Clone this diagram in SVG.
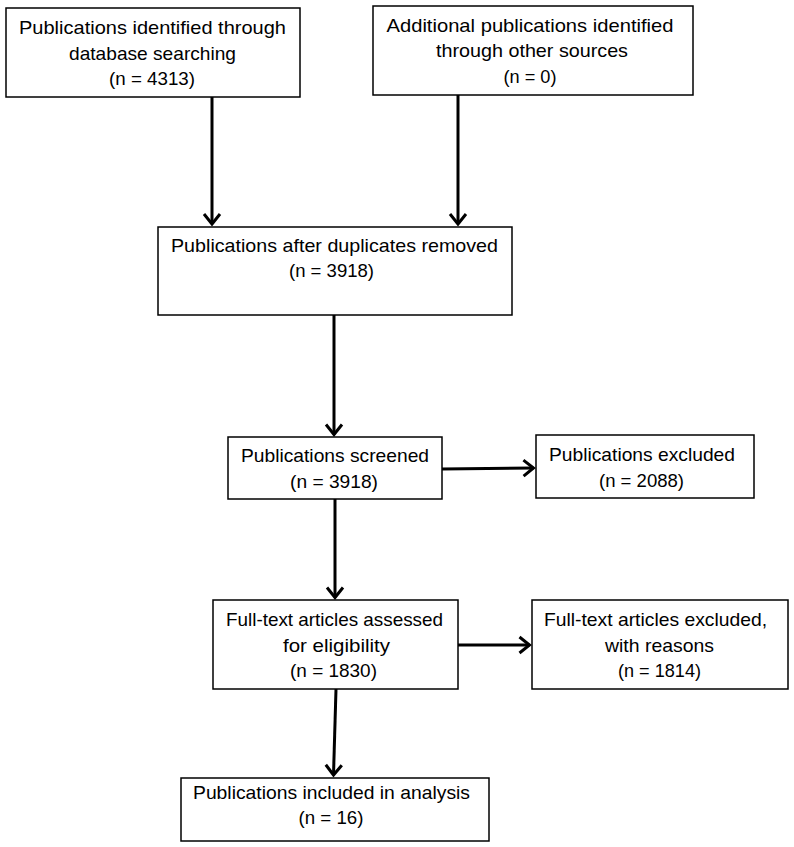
<svg xmlns="http://www.w3.org/2000/svg" width="794" height="847" viewBox="0 0 794 847">
<style>
.box{fill:#fff;stroke:#000;stroke-width:1.5}
.t{font-family:"Liberation Sans",Arial,sans-serif;font-size:19px;fill:#000;text-anchor:middle}
.c{stroke:#000;stroke-width:3;fill:none}
</style>
<defs>
<marker id="ah" markerUnits="userSpaceOnUse" markerWidth="24" markerHeight="24" viewBox="-12 -12 24 24" refX="0" refY="0" orient="auto">
<path d="M-10,-8 L0,0 L-10,8" fill="none" stroke="#000" stroke-width="3"/>
</marker>
</defs>
<rect width="794" height="847" fill="#fff"/>
<g id="connectors">
<line class="c" x1="212" y1="97" x2="212" y2="224" marker-end="url(#ah)"/>
<line class="c" x1="458" y1="95" x2="458" y2="224" marker-end="url(#ah)"/>
<line class="c" x1="334" y1="315" x2="334" y2="434.5" marker-end="url(#ah)"/>
<line class="c" x1="442" y1="469" x2="533.5" y2="468" marker-end="url(#ah)"/>
<line class="c" x1="335" y1="499" x2="335" y2="597.5" marker-end="url(#ah)"/>
<line class="c" x1="458" y1="645" x2="529.5" y2="645" marker-end="url(#ah)"/>
<line class="c" x1="336" y1="689" x2="333.5" y2="775" marker-end="url(#ah)"/>
</g>
<g id="n1"><rect class="box" x="6" y="8" width="294" height="89"/>
<text class="t" x="152.5" y="34" textLength="267" lengthAdjust="spacingAndGlyphs">Publications identified through</text>
<text class="t" x="152.5" y="60" textLength="167" lengthAdjust="spacingAndGlyphs">database searching</text>
<text class="t" x="152" y="85" textLength="86" lengthAdjust="spacingAndGlyphs">(n = 4313)</text></g>
<g id="n2"><rect class="box" x="373" y="6" width="320" height="89"/>
<text class="t" x="530" y="32" textLength="287" lengthAdjust="spacingAndGlyphs">Additional publications identified</text>
<text class="t" x="532" y="57" textLength="192" lengthAdjust="spacingAndGlyphs">through other sources</text>
<text class="t" x="530" y="83" textLength="53" lengthAdjust="spacingAndGlyphs">(n = 0)</text></g>
<g id="n3"><rect class="box" x="158" y="227" width="354" height="88"/>
<text class="t" x="334.5" y="252" textLength="327" lengthAdjust="spacingAndGlyphs">Publications after duplicates removed</text>
<text class="t" x="331.5" y="277" textLength="85" lengthAdjust="spacingAndGlyphs">(n = 3918)</text></g>
<g id="n4"><rect class="box" x="228" y="437" width="214" height="62"/>
<text class="t" x="335" y="462" textLength="188" lengthAdjust="spacingAndGlyphs">Publications screened</text>
<text class="t" x="334" y="488" textLength="88" lengthAdjust="spacingAndGlyphs">(n = 3918)</text></g>
<g id="n5"><rect class="box" x="536" y="435" width="218" height="63"/>
<text class="t" x="642" y="461" textLength="186" lengthAdjust="spacingAndGlyphs">Publications excluded</text>
<text class="t" x="641.5" y="487" textLength="85" lengthAdjust="spacingAndGlyphs">(n = 2088)</text></g>
<g id="n6"><rect class="box" x="213" y="600" width="245" height="89"/>
<text class="t" x="334.5" y="626" textLength="217" lengthAdjust="spacingAndGlyphs">Full-text articles assessed</text>
<text class="t" x="336.5" y="652" textLength="107" lengthAdjust="spacingAndGlyphs">for eligibility</text>
<text class="t" x="333.5" y="677" textLength="87" lengthAdjust="spacingAndGlyphs">(n = 1830)</text></g>
<g id="n7"><rect class="box" x="532" y="600" width="256" height="89"/>
<text class="t" x="655.5" y="626" textLength="223" lengthAdjust="spacingAndGlyphs">Full-text articles excluded,</text>
<text class="t" x="659.5" y="652" textLength="109" lengthAdjust="spacingAndGlyphs">with reasons</text>
<text class="t" x="659.5" y="677" textLength="83" lengthAdjust="spacingAndGlyphs">(n = 1814)</text></g>
<g id="n8"><rect class="box" x="181" y="778" width="308" height="63"/>
<text class="t" x="331.5" y="799" textLength="277" lengthAdjust="spacingAndGlyphs">Publications included in analysis</text>
<text class="t" x="331" y="824" textLength="65" lengthAdjust="spacingAndGlyphs">(n = 16)</text></g>
</svg>
